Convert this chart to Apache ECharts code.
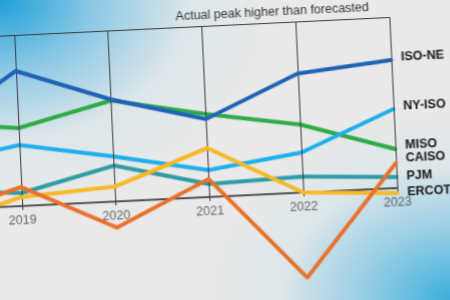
<!DOCTYPE html>
<html>
<head>
<meta charset="utf-8">
<script src="https://cdn.jsdelivr.net/npm/echarts@6/dist/echarts.min.js"></script>
<style>
  html, body { margin: 0; padding: 0; width: 450px; height: 300px; overflow: hidden; }
  body {
    background:
      radial-gradient(ellipse 270px 200px at 0 0, rgba(30,160,218,1) 0%, rgba(110,190,228,0.75) 35%, rgba(200,225,236,0.35) 70%, rgba(232,234,234,0) 100%),
      radial-gradient(ellipse 240px 190px at 100% 100%, rgba(60,175,220,1) 0%, rgba(120,195,228,0.75) 35%, rgba(200,225,236,0.35) 70%, rgba(232,234,234,0) 100%),
      #e8e9e8;
  }
  #chart {
    position: absolute; left: 0; top: 0; width: 560px; height: 330px;
    transform-origin: 0 0;
    transform: matrix(1, -0.048, 0.0468, 1, -91.6, 0);
  }
</style>
</head>
<body>
<div id="chart"></div>
<script>
// ---- data ----
const years = ['2018', '2019', '2020', '2021', '2022', '2023'];
const isoNE  = [75, 135, 102, 78, 119, 128];
const nyISO  = [44, 61, 45, 27, 40, 79];
const miso   = [88, 78, 101, 83, 68, 39];
const caiso  = [-8, 19, -26, 18, -85, 25];
const pjm    = [20, 13, 36, 13, 16, 11];
const ercot  = [-18, 9, 15, 49, 0, -5];
const titleText = 'Actual peak higher than forecasted';
const yTop = 171;
const yBottom = -100;

const FONT = '"Liberation Sans", Arial, sans-serif';

function lineSeries(name, data, color, z, dy) {
  return {
    name, type: 'line', data, z,
    symbol: 'none', smooth: false,
    lineStyle: { color, width: 4, cap: 'round', join: 'round' },
    endLabel: {
      show: true, formatter: '{a}', color: '#151515',
      fontFamily: FONT, fontSize: 12.5, fontWeight: 'bold',
      distance: 10, offset: [0, dy]
    },
    labelLayout: { hideOverlap: false }
  };
}

const gridLines = years.map(y => [{ coord: [y, -4] }, { coord: [y, yTop] }]);
gridLines.push([{ coord: [years[0], yTop] }, { coord: [years[years.length - 1], yTop] }]);

const chart = echarts.init(document.getElementById('chart'), null, { renderer: 'canvas' });
chart.setOption({
  animation: false,
  backgroundColor: 'transparent',
  title: {
    text: titleText, right: 96, top: 18,
    textStyle: { fontFamily: FONT, fontSize: 12.5, fontWeight: 'normal', color: '#333' }
  },
  grid: { left: 10, right: 81.25, top: 40, bottom: 19, containLabel: false },
  xAxis: {
    type: 'category', data: years, boundaryGap: false,
    axisLine: { show: true, onZero: true, lineStyle: { color: '#222', width: 1.5 } },
    axisTick: { show: false },
    axisLabel: { show: false },
    splitLine: { show: false }
  },
  yAxis: {
    type: 'value', min: yBottom, max: yTop, show: false,
    splitLine: { show: false }
  },
  series: [
    {
      type: 'line', data: years.map(() => null), z: 1, silent: true,
      markLine: {
        silent: true, symbol: 'none', animation: false,
        label: { show: false },
        lineStyle: { color: '#3a3a3a', width: 1, type: 'solid' },
        data: gridLines
      }
    },
    {
      type: 'scatter', data: years.map(y => [y, 0]), symbolSize: 0, z: 1, silent: true,
      label: {
        show: true, position: 'bottom', distance: 8,
        formatter: p => p.value[0],
        color: '#444', fontFamily: FONT, fontSize: 12.5
      }
    },
    lineSeries('MISO', miso, '#2eaa47', 2, -3),
    lineSeries('PJM', pjm, '#2f9ba6', 3, 0),
    lineSeries('NY-ISO', nyISO, '#1eaeee', 4, -2),
    lineSeries('ISO-NE', isoNE, '#1e62b5', 5, -2),
    lineSeries('ERCOT', ercot, '#f8b828', 6, 0),
    lineSeries('CAISO', caiso, '#e9702a', 7, -4)
  ]
});
</script>
</body>
</html>
